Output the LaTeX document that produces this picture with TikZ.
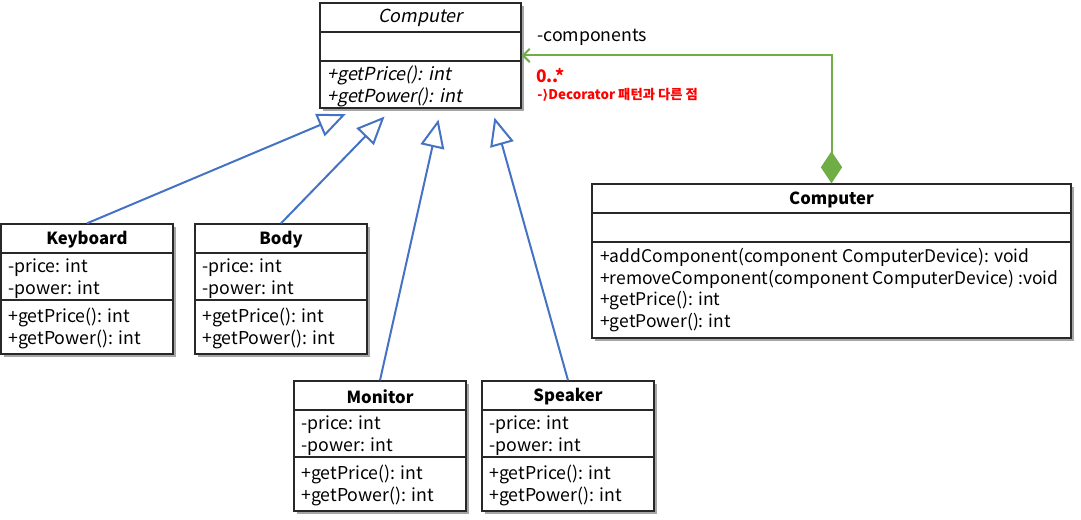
\documentclass[tikz,border=0pt]{standalone}
\usepackage{fontspec}
\setmainfont{Noto Sans CJK KR}
\newfontfamily\slantfont{Noto Sans CJK KR}[FakeSlant=0.2]
\newfontfamily\symfont{DejaVu Sans}
\usetikzlibrary{fit,shadows,arrows.meta,calc}
\definecolor{umlblue}{RGB}{68,114,196}
\definecolor{umlgreen}{RGB}{112,173,71}
\definecolor{umlred}{RGB}{255,0,0}
\definecolor{boxgray}{RGB}{40,40,40}
\tikzset{
  box/.style={draw=boxgray, line width=1pt, fill=white, inner sep=0pt,
    drop shadow={shadow xshift=2pt, shadow yshift=-2pt, opacity=0.35, fill=black}},
  sep/.style={draw=boxgray, line width=0.8pt},
  ttl/.style={font=\fontsize{12.5}{15}\selectfont\bfseries, inner sep=0pt},
  itl/.style={font=\fontsize{13.5}{16}\slantfont, inner sep=0pt},
  mem/.style={font=\fontsize{13.3}{16}\selectfont, anchor=west, inner sep=0pt},
  cmem/.style={font=\fontsize{13.1}{16}\selectfont, anchor=west, inner sep=0pt},
  imem/.style={font=\fontsize{13.5}{16}\slantfont, anchor=west, inner sep=0pt},
  gen/.style={draw=umlblue, line width=1.5pt, -{Triangle[open, length=21pt, width=18pt, fill=white]}, shorten >=3pt},
  agg/.style={draw=umlgreen, line width=1.5pt, {Diamond[length=24pt, width=16pt, fill=umlgreen]}-{Straight Barb[length=5pt, width=10pt]}},
}
\newcommand{\leafclass}[4]{%
  \node[box, fit={(#2,#3)(#2+172,#3+130)}] (#1) {};
  \draw[sep] (#2,#3+29) -- (#2+172,#3+29);
  \draw[sep] (#2,#3+76) -- (#2+172,#3+76);
  \node[ttl] (#1-t) at (#2+86,#3+15.5) {#4};
  \node[mem] (#1-a1) at (#2+7,#3+43.5) {-price: int};
  \node[mem] (#1-a2) at (#2+7,#3+65.5) {-power: int};
  \node[mem] (#1-m1) at (#2+7,#3+93.5) {+getPrice(): int};
  \node[mem] (#1-m2) at (#2+7,#3+115.5) {+getPower(): int};
}
\begin{document}
\begin{tikzpicture}[x=0.75pt, y=-0.75pt]
\useasboundingbox (0,0) rectangle (1081,520);
% abstract Computer
\node[box, fit={(320,3)(521,108)}] (abs) {};
\draw[sep] (320,32) -- (521,32);
\draw[sep] (320,61) -- (521,61);
\node[itl] (abs-t) at (420.5,18) {Computer};
\node[imem] (abs-m1) at (327,75.5) {+getPrice(): int};
\node[imem] (abs-m2) at (327,97.5) {+getPower(): int};
% leaves
\leafclass{kb}{1}{224}{Keyboard}
\leafclass{body}{195}{224}{Body}
\leafclass{mon}{294}{381}{Monitor}
\leafclass{spk}{482}{381}{Speaker}
% composite Computer
\node[box, fit={(592,184)(1071,338)}] (comp) {};
\draw[sep] (592,213) -- (1071,213);
\draw[sep] (592,242) -- (1071,242);
\node[ttl] (comp-t) at (831.5,199.5) {Computer};
\node[cmem] (comp-m1) at (600,257.5) {+addComponent(component ComputerDevice): void};
\node[cmem] (comp-m2) at (600,279.5) {+removeComponent(component ComputerDevice) :void};
\node[cmem] (comp-m3) at (600,300.5) {+getPrice(): int};
\node[cmem] (comp-m4) at (600,322.5) {+getPower(): int};
% generalizations
\draw[gen] (kb.north) -- ($(abs.south west)+(30,4)$);
\draw[gen] (body.north) -- ($(abs.south west)+(68,5)$);
\draw[gen] (mon.north) -- ($(abs.south west)+(120,7)$);
\draw[gen] (spk.north) -- ($(abs.south west)+(174,5)$);
% aggregation
\draw[agg] (comp.north) |- (abs.east);
\node[mem] (lbl-comp) at (537,37) {-components};
\node[font=\fontsize{13}{15}\selectfont\bfseries, text=umlred, anchor=west, inner sep=0pt] (lbl-mult) at (536,76) {0..*};
\node[font=\fontsize{10}{12}\selectfont\bfseries, text=umlred, anchor=west, inner sep=0pt] (lbl-note) at (537,95) {-{\symfont\bfseries ⟩}Decorator 패턴과 다른 점};
\end{tikzpicture}
\end{document}
